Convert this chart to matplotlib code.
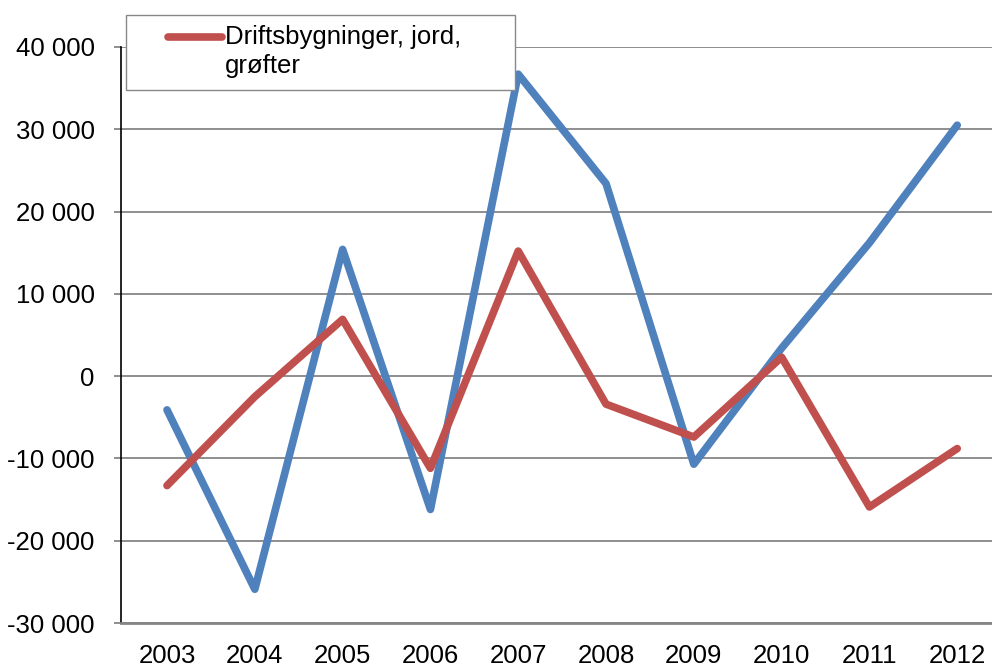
import matplotlib
matplotlib.use("Agg")
import matplotlib.pyplot as plt
from matplotlib.patches import Rectangle
from matplotlib.lines import Line2D
from matplotlib.ticker import FuncFormatter

years = ["2003", "2004", "2005", "2006", "2007", "2008", "2009", "2010", "2011", "2012"]
drifts = [-13300, -2500, 6900, -11200, 15200, -3400, -7400, 2300, -15900, -8800]
blue_series = [-4100, -25900, 15400, -16200, 36700, 23400, -10700, 3400, 16200, 30500]
yticks = [-30000, -20000, -10000, 0, 10000, 20000, 30000, 40000]
legend_label = "Driftsbygninger, jord,\ngrøfter"

RED = "#C0504D"
BLUE = "#4F81BD"
GRID = "#868686"
W, H = 992, 667
FS = 18.5
LW = 5.5

plt.rcParams["font.family"] = ["Liberation Sans", "DejaVu Sans"]
fig = plt.figure(figsize=(W / 100, H / 100), dpi=100)
ax = fig.add_axes([121 / W, 1 - 623 / H, (W - 121) / W, (623 - 47) / H])

x = list(range(len(years)))
ax.plot(x, blue_series, color=BLUE, lw=LW, solid_joinstyle="round", solid_capstyle="round", zorder=3)
ax.plot(x, drifts, color=RED, lw=LW, solid_joinstyle="round", solid_capstyle="round", zorder=4)

ax.set_xlim(-0.524, 9.396)
ax.set_ylim(-30000, 40000)
ax.set_yticks(yticks)
ax.yaxis.set_major_formatter(FuncFormatter(lambda v, p: ("-" if v < 0 else "") + f"{abs(int(v)):,}".replace(",", " ")))
ax.set_xticks(x)
ax.set_xticklabels(years)

ax.grid(axis="y", color=GRID, lw=1.3, zorder=1)
ax.set_axisbelow(True)
for s in ["top", "right"]:
    ax.spines[s].set_visible(False)
ax.spines["left"].set_color("black")
ax.spines["left"].set_linewidth(1.2)
ax.spines["bottom"].set_color(GRID)
ax.spines["bottom"].set_linewidth(2)
ax.tick_params(axis="y", direction="out", length=5, width=1.3, color=GRID, pad=14, labelsize=FS)
ax.tick_params(axis="x", length=0, pad=15, labelsize=FS)
for val, t in zip(yticks, ax.yaxis.get_major_ticks()):
    if val == 0:
        t.tick1line.set_color("black")

# legend box
fig.patches.append(Rectangle((126 / W, 1 - 90 / H), (515 - 126) / W, (90 - 15) / H,
                             transform=fig.transFigure, facecolor="white", edgecolor="#888888", lw=1.0, zorder=5))
fig.lines.append(Line2D([168 / W, 222 / W], [1 - 37 / H, 1 - 37 / H], transform=fig.transFigure,
                        color=RED, lw=LW, solid_capstyle="round", zorder=6))
fig.text(225 / W, 1 - 25 / H, legend_label, fontsize=FS, va="top", ha="left", linespacing=1.25, zorder=7)

fig.savefig("out.png", dpi=100)
